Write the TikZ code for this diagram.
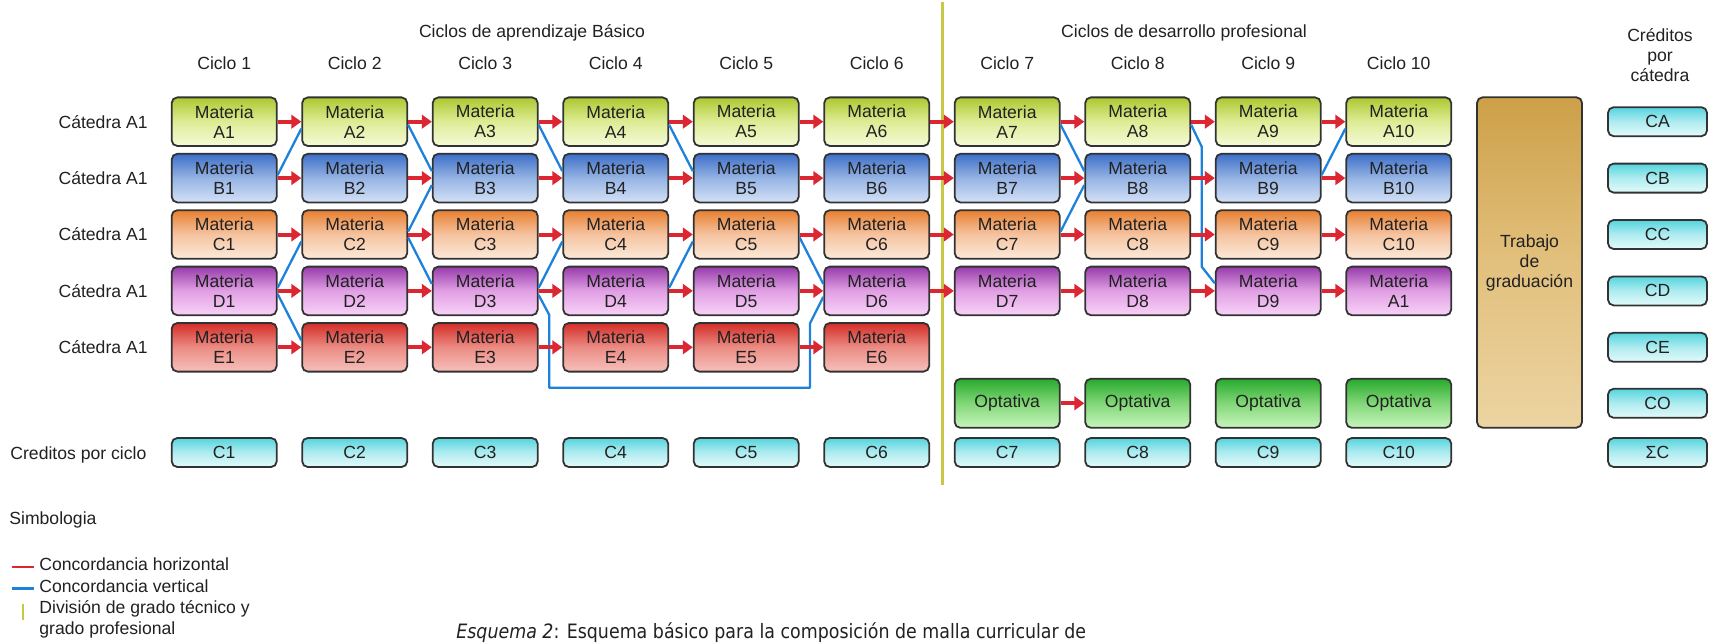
\documentclass[tikz,border=0pt]{standalone}
\usepackage{fontspec}
\setmainfont{Liberation Sans}
\newfontfamily\capfont[FakeStretch=0.88]{DejaVu Sans}
\usetikzlibrary{arrows.meta,calc}
\definecolor{redc}{RGB}{220,38,50}
\definecolor{bluec}{RGB}{30,130,220}
\definecolor{yelc}{RGB}{200,200,70}
\definecolor{edgec}{RGB}{50,50,50}
\definecolor{aT}{RGB}{172,200,48}\definecolor{aM}{RGB}{222,236,150}\definecolor{aB}{RGB}{245,250,215}
\definecolor{bT}{RGB}{60,110,200}\definecolor{bM}{RGB}{150,180,228}\definecolor{bB}{RGB}{212,225,246}
\definecolor{cT}{RGB}{232,128,48}\definecolor{cM}{RGB}{245,195,160}\definecolor{cB}{RGB}{252,234,218}
\definecolor{dT}{RGB}{150,60,170}\definecolor{dM}{RGB}{225,160,228}\definecolor{dB}{RGB}{248,210,248}
\definecolor{eT}{RGB}{212,45,40}\definecolor{eM}{RGB}{235,140,132}\definecolor{eB}{RGB}{246,192,188}
\definecolor{oT}{RGB}{40,170,45}\definecolor{oM}{RGB}{130,215,120}\definecolor{oB}{RGB}{200,245,190}
\definecolor{kT}{RGB}{85,212,222}\definecolor{kM}{RGB}{175,236,240}\definecolor{kB}{RGB}{228,250,250}
\definecolor{tT}{RGB}{205,160,72}\definecolor{tM}{RGB}{226,192,125}\definecolor{tB}{RGB}{236,212,162}
\begin{document}
\begin{tikzpicture}[x=0.5pt,y=-0.5pt,
  every node/.style={text=black!87, inner sep=0pt, font=\fontsize{8.8}{10}\selectfont},
  box/.style={draw=edgec, line width=0.9pt, rounded corners=2.8pt, align=center,
    minimum width=52.5pt, minimum height=24.3pt},
  grad/.style n args={3}{top color=#1, bottom color=#3, middle color=#2},
  rA/.style={box, grad={aT}{aM}{aB}},
  rB/.style={box, grad={bT}{bM}{bB}},
  rC/.style={box, grad={cT}{cM}{cB}},
  rD/.style={box, grad={dT}{dM}{dB}},
  rE/.style={box, grad={eT}{eM}{eB}},
  obox/.style={box, minimum height=24.5pt, grad={oT}{oM}{oB}},
  kbox/.style={box, minimum height=14.5pt, grad={kT}{kM}{kB}},
  rbox/.style={kbox, minimum width=49.5pt},
  tbox/.style={box, minimum height=165.2pt, grad={tT}{tM}{tB}},
  redarrow/.style={draw=redc, line width=2pt, -{Triangle[length=5pt,width=6.8pt]}},
  blueline/.style={draw=bluec, line width=1.15pt, line join=round},
  yelline/.style={draw=yelc, line width=1.5pt}
]
\useasboundingbox (0,0) rectangle (1711,642);

% headers
\node (hb) at (532,33.3) {Ciclos de aprendizaje Básico};
\node (hp) at (1184,33.3) {Ciclos de desarrollo profesional};
\node[align=center] (hc) at (1660,55.5) {Créditos\\por\\cátedra};

% grid of subjects
\foreach \i in {1,...,10}{
  \pgfmathsetmacro{\cx}{224.2+(\i-1)*130.5}
  \node (h\i) at (\cx,63.3) {Ciclo \i};
  \node[rA] (A\i) at (\cx,121.7) {Materia\\A\i};
  \node[rB] (B\i) at (\cx,178.1) {Materia\\B\i};
  \node[rC] (C\i) at (\cx,234.5) {Materia\\C\i};
  \node[kbox] (K\i) at (\cx,452.5) {C\i};
}
\foreach \i in {1,...,9}{
  \pgfmathsetmacro{\cx}{224.2+(\i-1)*130.5}
  \node[rD] (D\i) at (\cx,290.9) {Materia\\D\i};
}
\node[rD] (D10) at (1398.7,290.9) {Materia\\A1};
\foreach \i in {1,...,6}{
  \pgfmathsetmacro{\cx}{224.2+(\i-1)*130.5}
  \node[rE] (E\i) at (\cx,347.3) {Materia\\E\i};
}
\foreach \i in {7,...,10}{
  \pgfmathsetmacro{\cx}{224.2+(\i-1)*130.5}
  \node[obox] (O\i) at (\cx,403.3) {Optativa};
}

% graduation work and credits per chair
\node[tbox] (TG) at (1529.5,262.5) {Trabajo\\de\\graduación};
\node[rbox] (RA) at (1657.5,121.7) {CA};
\node[rbox] (RB) at (1657.5,178.1) {CB};
\node[rbox] (RC) at (1657.5,234.5) {CC};
\node[rbox] (RD) at (1657.5,290.9) {CD};
\node[rbox] (RE) at (1657.5,347.3) {CE};
\node[rbox] (RO) at (1657.5,403.3) {CO};
\node[rbox] (RS) at (1657.5,452.5) {ΣC};

% row labels
\node[anchor=east] (la) at (148,121.7) {Cátedra A1};
\node[anchor=east] (lb) at (148,178.1) {Cátedra A1};
\node[anchor=east] (lc) at (148,234.5) {Cátedra A1};
\node[anchor=east] (ld) at (148,290.9) {Cátedra A1};
\node[anchor=east] (le) at (148,347.3) {Cátedra A1};
\node[anchor=west] (lk) at (10,455) {Creditos por ciclo};

% division line
\coordinate (Y1) at (942,2);
\coordinate (Y2) at (942,485);
\draw[yelline] (Y1) -- (Y2);

% vertical concordance (blue)
\foreach \s/\t in {B1/A2,D1/C2,C2/B3,D3/C4,D4/C5,C7/B8,B9/A10}
  \draw[blueline] ([yshift=1.5pt]\s.east) -- ([yshift=-3.5pt]\t.west);
\foreach \s/\t in {A2/B3,A3/B4,A4/B5,A7/B8,C2/D3,C5/D6,D1/E2}
  \draw[blueline] ([yshift=-1.5pt]\s.east) -- ([yshift=3.5pt]\t.west);
\coordinate (L1) at (549.3,315);
\coordinate (L2) at (549.3,387.7);
\coordinate (L3) at (810,387.7);
\coordinate (L4) at (810,323.3);
\draw[blueline] ([yshift=-2pt]D3.east) -- (L1) -- (L2) -- (L3) -- (L4) -- ([yshift=-3pt]D6.west);
\coordinate (M1) at (1201.7,146.7);
\coordinate (M2) at (1201.7,266.7);
\draw[blueline] ([yshift=-1.5pt]A8.east) -- (M1) -- (M2) -- ([yshift=3.8pt]D9.west);

% horizontal concordance (red)
\foreach \i [evaluate=\i as \j using int(\i+1)] in {1,...,9}{
  \draw[redarrow] (A\i.east) -- (A\j.west);
  \draw[redarrow] (B\i.east) -- (B\j.west);
  \draw[redarrow] (C\i.east) -- (C\j.west);
  \draw[redarrow] (D\i.east) -- (D\j.west);
}
\foreach \i [evaluate=\i as \j using int(\i+1)] in {1,...,5}{
  \draw[redarrow] (E\i.east) -- (E\j.west);
}
\draw[redarrow] (O7.east) -- (O8.west);

% legend
\node[anchor=west] (simb) at (9,520) {Simbologia};
\node[anchor=west] (lg1) at (39,564) {Concordancia horizontal};
\node[anchor=west] (lg2) at (39,586.7) {Concordancia vertical};
\node[anchor=west] (lg3) at (39,609) {División de grado técnico y};
\node[anchor=west] (lg4) at (39,630) {grado profesional};
\coordinate (r1) at (11.5,566.7); \coordinate (r2) at (34.4,566.7);
\coordinate (b1) at (11.5,588.3); \coordinate (b2) at (34.4,588.3);
\coordinate (y1) at (23,603.5); \coordinate (y2) at (23,619.5);
\draw[draw=redc, line width=1pt] (r1) -- (r2);
\draw[draw=bluec, line width=1.2pt] (b1) -- (b2);
\draw[draw=yelc, line width=1.3pt] (y1) -- (y2);

% caption
\node[anchor=west] (cap) at (456,633) {\capfont\fontsize{9.9}{12}\selectfont\itshape Esquema 2\upshape: Esquema básico para la composición de malla curricular de};
\end{tikzpicture}
\end{document}
